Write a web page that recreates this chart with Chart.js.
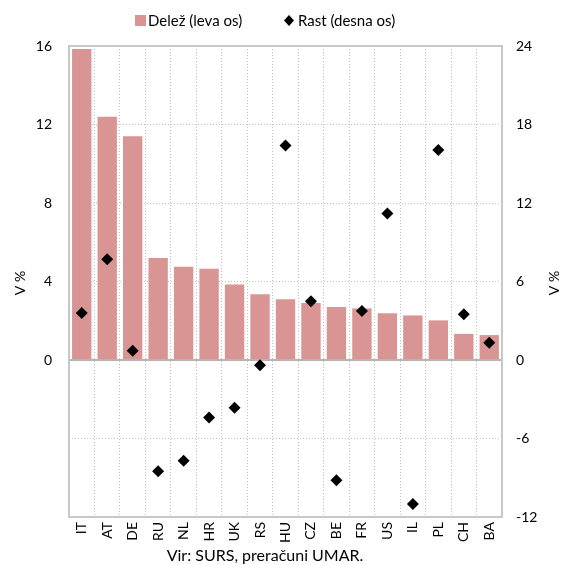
<!DOCTYPE html>
<html>
<head>
<meta charset="utf-8">
<script src="https://cdn.jsdelivr.net/npm/chart.js@4"></script>
<style>
  html, body { margin: 0; padding: 0; background: #fff; }
  #wrap { width: 562px; height: 565px; }
</style>
</head>
<body>
<div id="wrap"><canvas id="chart" width="562" height="565"></canvas></div>
<script>
// Data
const countries = ['IT', 'AT', 'DE', 'RU', 'NL', 'HR', 'UK', 'RS', 'HU', 'CZ', 'BE', 'FR', 'US', 'IL', 'PL', 'CH', 'BA'];
const share = [15.85, 12.4, 11.4, 5.2, 4.75, 4.65, 3.85, 3.35, 3.1, 2.9, 2.7, 2.63, 2.38, 2.27, 2.02, 1.33, 1.27];
const growth = [3.6, 7.7, 0.7, -8.5, -7.7, -4.4, -3.65, -0.4, 16.4, 4.5, -9.2, 3.75, 11.2, -11.0, 16.05, 3.5, 1.32];
const leftTicks = [-8, 16, 4];   // min, max, step
const rightTicks = [-12, 24, 6];

const FONT = 'Lato, "Open Sans", sans-serif';
const gridGrey = '#c2c2c2';

// legend, axis titles, source and frame drawn by hand
const extras = {
  id: 'extras',
  afterDraw(chart) {
    const c = chart.ctx;
    const a = chart.chartArea;
    c.save();
    c.strokeStyle = '#c8c8c8';
    c.lineWidth = 2;
    c.strokeRect(a.left, a.top, a.right - a.left, a.bottom - a.top);

    c.fillStyle = '#000';
    c.font = '15px ' + FONT;
    c.textBaseline = 'middle';

    // legend
    c.fillStyle = '#d99594';
    c.fillRect(135, 15, 11, 11);
    c.fillStyle = '#000';
    c.textAlign = 'left';
    c.fillText('Delež (leva os)', 148, 21);
    c.beginPath();
    c.moveTo(289, 15); c.lineTo(294, 20.5); c.lineTo(289, 26); c.lineTo(284, 20.5);
    c.closePath(); c.fill();
    c.fillText('Rast (desna os)', 298, 21);

    // axis titles
    c.font = '14px ' + FONT;
    [20, 554].forEach(x => {
      c.save();
      c.translate(x, 283);
      c.rotate(-Math.PI / 2);
      c.textAlign = 'center';
      c.fillText('V %', 0, 0);
      c.restore();
    });

    c.font = '16px ' + FONT;
    c.textAlign = 'center';
    c.fillText('Vir: SURS, preračuni UMAR.', 265, 556);
    c.restore();
  }
};

new Chart(document.getElementById('chart'), {
  type: 'bar',
  data: {
    labels: countries,
    datasets: [
      {
        type: 'line',
        label: 'Rast (desna os)',
        data: growth,
        yAxisID: 'y2',
        showLine: false,
        pointStyle: 'rectRot',
        pointRadius: 6,
        pointBackgroundColor: '#000',
        pointBorderColor: '#000',
        pointBorderWidth: 0,
        order: 0
      },
      {
        label: 'Delež (leva os)',
        data: share,
        yAxisID: 'y',
        backgroundColor: '#d99594',
        categoryPercentage: 1,
        barPercentage: 0.76,
        order: 1
      }
    ]
  },
  options: {
    responsive: false,
    animation: false,
    layout: { padding: { top: 46 } },
    plugins: {
      legend: { display: false },
      tooltip: { enabled: false }
    },
    scales: {
      x: {
        afterFit: s => { s.height = 48; },
        grid: { offset: true, color: gridGrey, lineWidth: 1, drawTicks: false },
        border: { display: false, dash: [1, 2] },
        ticks: {
          minRotation: 90, maxRotation: 90, padding: 5, autoSkip: false,
          color: '#000', font: { family: FONT, size: 14 }
        }
      },
      y: {
        position: 'left',
        min: leftTicks[0], max: leftTicks[1],
        afterFit: s => { s.width = 69; },
        grid: {
          drawTicks: false,
          color: ctx => ctx.tick && ctx.tick.value === 0 ? '#b5b5b5' : gridGrey,
          lineWidth: ctx => ctx.tick && ctx.tick.value === 0 ? 2 : 1
        },
        border: {
          display: false,
          dash: ctx => (ctx.tick && ctx.tick.value !== 0) ? [1, 2] : []
        },
        ticks: {
          stepSize: leftTicks[2], padding: 17, color: '#000',
          font: { family: FONT, size: 14 },
          callback: v => v < 0 ? '' : v
        }
      },
      y2: {
        position: 'right',
        min: rightTicks[0], max: rightTicks[1],
        afterFit: s => { s.width = 60; },
        grid: { drawOnChartArea: false, drawTicks: false },
        border: { display: false },
        ticks: {
          stepSize: rightTicks[2], padding: 14, color: '#000',
          font: { family: FONT, size: 14 }
        }
      }
    }
  },
  plugins: [extras]
});
</script>
</body>
</html>
